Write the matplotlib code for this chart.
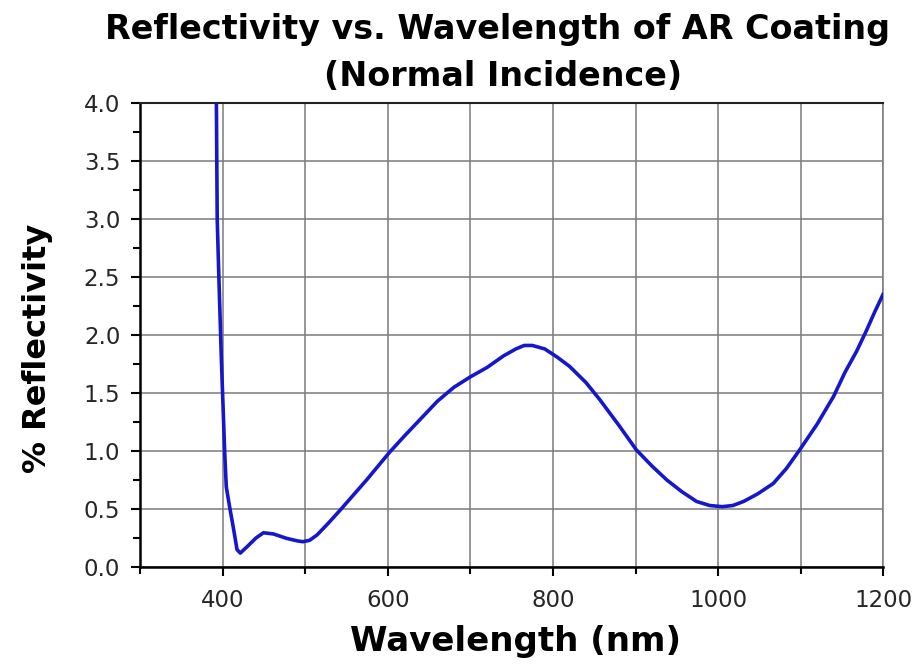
import numpy as np
import matplotlib.pyplot as plt
from matplotlib.ticker import MultipleLocator

# wavelength (nm) and % reflectivity
wavelength = [391, 392, 393, 395, 398, 402, 404, 408, 413, 417, 421, 430, 440,
              449, 461, 477, 490, 497, 505, 514, 528, 542, 558, 574, 588, 602,
              620, 640, 660, 680, 700, 720, 740, 755, 765, 775, 790, 805, 820,
              840, 857, 880, 901, 920, 938, 956, 974, 990, 1005, 1018, 1031,
              1048, 1067, 1083, 1099, 1120, 1140, 1154, 1168, 1180, 1190, 1200]
reflectivity = [4.3, 4.0, 3.0, 2.5, 1.8, 1.0, 0.69, 0.52, 0.32, 0.15, 0.12, 0.18, 0.25,
                0.295, 0.285, 0.247, 0.225, 0.218, 0.23, 0.276, 0.38, 0.49, 0.62, 0.75, 0.87, 0.99,
                1.13, 1.28, 1.43, 1.55, 1.64, 1.72, 1.82, 1.88, 1.91, 1.91, 1.88, 1.81, 1.73,
                1.59, 1.44, 1.22, 1.01, 0.87, 0.75, 0.65, 0.565, 0.53, 0.52, 0.53, 0.565,
                0.63, 0.72, 0.85, 1.01, 1.23, 1.47, 1.68, 1.86, 2.04, 2.2, 2.35]

x_ticks = [400, 600, 800, 1000, 1200]
y_ticks = np.arange(0, 4.01, 0.5)

plt.rcParams['font.family'] = ['DejaVu Sans']

fig = plt.figure(figsize=(9.2, 6.65), dpi=100)
ax = fig.add_axes([0.1527, 0.1474, 0.8071, 0.6976])

ax.plot(wavelength, reflectivity, color='#1616cc', lw=2.6, zorder=3)

ax.set_xlim(300, 1200)
ax.set_ylim(0, 4.0)
ax.set_xticks(x_ticks)
ax.xaxis.set_minor_locator(MultipleLocator(100))
ax.set_yticks(y_ticks)
ax.set_yticklabels([f'{v:.1f}' for v in y_ticks])
ax.yaxis.set_minor_locator(MultipleLocator(0.25))

ax.grid(True, which='major', color='#7a7a7a', lw=1.1)
ax.grid(True, which='minor', axis='x', color='#7a7a7a', lw=1.1)
ax.set_axisbelow(True)

for side in ['left', 'bottom']:
    ax.spines[side].set_linewidth(1.8)
    ax.spines[side].set_color('black')
ax.spines['top'].set_color('#222222')
ax.spines['top'].set_linewidth(1.5)
ax.spines['right'].set_color('#7a7a7a')
ax.spines['right'].set_linewidth(1.1)

ax.tick_params(which='both', direction='out', width=1.5, color='black',
               labelsize=16.5, labelcolor='#262626')
ax.tick_params(which='major', length=6.5)
ax.tick_params(which='minor', length=5)
ax.tick_params(axis='x', pad=9)
ax.tick_params(axis='y', pad=8)

fig.text(516 / 920, 1 - 642 / 665, 'Wavelength (nm)', fontsize=24.5, fontweight='bold',
         ha='center', va='center')
fig.text(38 / 920, 1 - 348 / 665, '% Reflectivity', fontsize=23, fontweight='bold',
         ha='center', va='center', rotation=90)
fig.text(498 / 920, 1 - 30 / 665, 'Reflectivity vs. Wavelength of AR Coating',
         fontsize=24, fontweight='bold', ha='center', va='center')
fig.text(503 / 920, 1 - 76 / 665, '(Normal Incidence)',
         fontsize=24, fontweight='bold', ha='center', va='center')

fig.savefig('out.png', dpi=100)
